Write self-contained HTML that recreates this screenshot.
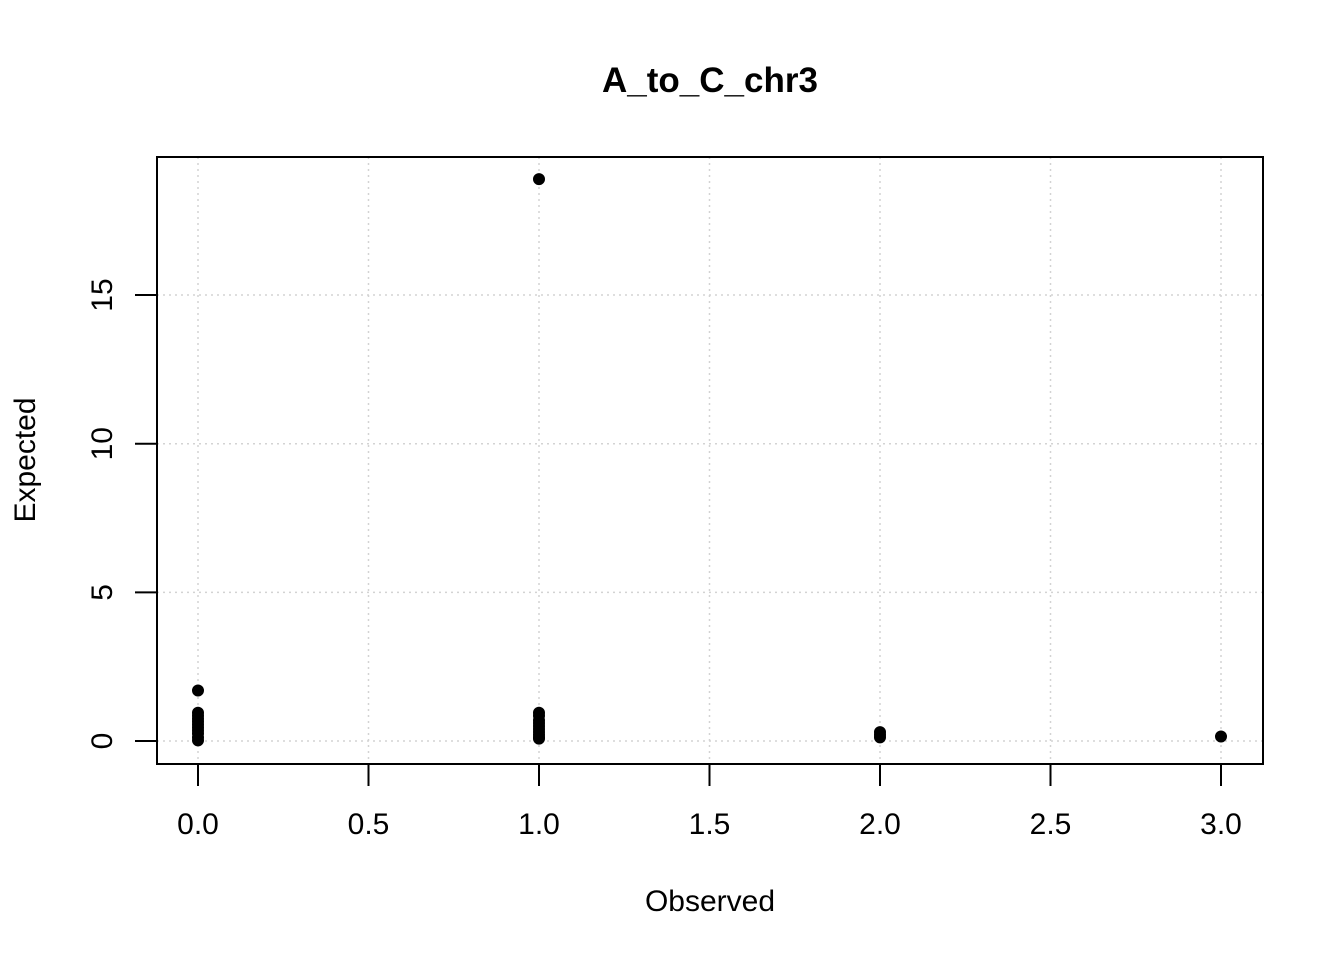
<!DOCTYPE html>
<html><head><meta charset="utf-8"><style>body{margin:0;background:#fff}svg{display:block;font-family:"Liberation Sans",Arial,sans-serif}</style></head>
<body>
<svg id="chart" width="1344" height="960" viewBox="0 0 1344 960">
<rect width="1344" height="960" fill="#fff"/>
<text x="710" y="92" text-anchor="middle" font-size="35" font-weight="bold">A_to_C_chr3</text>
<g id="grid"></g><g id="axes"></g><g id="pts"></g>
<rect x="157" y="157" width="1106" height="607" fill="none" stroke="#000" stroke-width="2"/>
<text x="710" y="911" text-anchor="middle" font-size="30">Observed</text>
<text transform="translate(35,460) rotate(-90)" text-anchor="middle" font-size="30">Expected</text>
</svg>
<script>
const observed=[0,0,0,0,0,0,0,0,0,0,0,1,1,1,1,1,1,1,1,1,1,2,2,2,3,1];
const expected=[1.7,0.95,0.85,0.75,0.65,0.55,0.45,0.35,0.25,0.12,0.02,0.95,0.85,0.7,0.6,0.5,0.4,0.3,0.2,0.12,0.08,0.3,0.2,0.12,0.15,18.9];
const xTicks=[0,0.5,1,1.5,2,2.5,3];
const xTickLabels=["0.0","0.5","1.0","1.5","2.0","2.5","3.0"];
const yTicks=[0,5,10,15];
const yTickLabels=["0","5","10","15"];
const NS="http://www.w3.org/2000/svg";
const sx=v=>198+v*341, sy=v=>741-v*29.73;
function mk(p,t,a){const e=document.createElementNS(NS,t);for(const k in a)e.setAttribute(k,a[k]);p.appendChild(e);return e;}
const g=document.getElementById('grid'),ax=document.getElementById('axes'),pt=document.getElementById('pts');
xTicks.forEach((v,i)=>{
 const l=mk(g,'line',{x1:sx(v),x2:sx(v),y1:157,y2:764,stroke:'#d3d3d3','stroke-width':1.5,'stroke-dasharray':'2,4'});
 
 const t=mk(ax,'line',{x1:sx(v),x2:sx(v),y1:764,y2:786,stroke:'#000','stroke-width':2});
 
 const tx=mk(ax,'text',{x:sx(v),y:834,'text-anchor':'middle','font-size':30});tx.textContent=xTickLabels[i];
 
});
yTicks.forEach((v,i)=>{
 const l=mk(g,'line',{x1:157,x2:1263,y1:sy(v),y2:sy(v),stroke:'#d3d3d3','stroke-width':1.5,'stroke-dasharray':'2,4'});
 
 const t=mk(ax,'line',{x1:135,x2:157,y1:sy(v),y2:sy(v),stroke:'#000','stroke-width':2});
 
 const tx=mk(ax,'text',{transform:`translate(112,${sy(v)}) rotate(-90)`,'text-anchor':'middle','font-size':30});tx.textContent=yTickLabels[i];
 
});
observed.forEach((o,i)=>{
 const c=mk(pt,'circle',{cx:sx(o),cy:sy(expected[i]),r:4.5,fill:'#000',stroke:'#000','stroke-width':3});
 
});
</script>
</body></html>
